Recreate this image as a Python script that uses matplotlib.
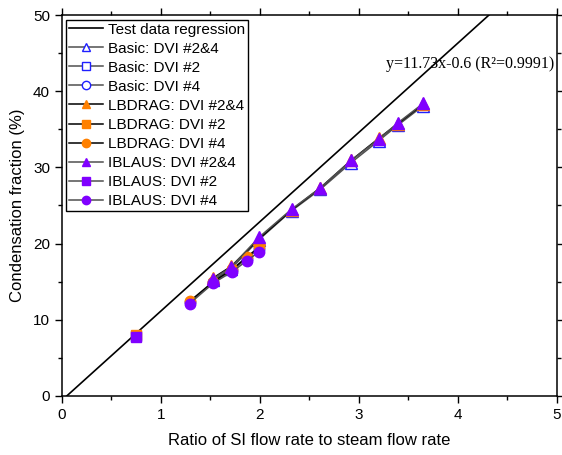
import numpy as np
import matplotlib
matplotlib.use('Agg')
import matplotlib.pyplot as plt
from matplotlib.ticker import MultipleLocator

plt.rcParams['font.family'] = ['Liberation Sans', 'DejaVu Sans']

# regression of test data
reg_slope = 11.73
reg_intercept = -0.6
reg_label = 'y=11.73x-0.6 (R\u00b2=0.9991)'

# DVI #2&4 (triangles)
tri_x = [1.53, 1.71, 1.99, 2.32, 2.61, 2.92, 3.20, 3.39, 3.65]
basic_tri = [15.2, 16.7, 20.5, 24.3, 27.1, 30.6, 33.5, 35.5, 38.1]
lbdrag_tri = [15.5, 17.0, 20.6, 24.4, 27.3, 30.9, 33.8, 35.7, 38.3]
iblaus_tri = [15.4, 16.9, 20.8, 24.5, 27.3, 30.9, 33.7, 35.8, 38.4]

# DVI #2 (squares)
sq_x = [0.75]
basic_sq = [7.8]
lbdrag_sq = [8.0]
iblaus_sq = [7.7]

# DVI #4 (circles)
circ_x = [1.29, 1.53, 1.72, 1.865, 1.99]
basic_circ = [12.3, 14.9, 16.5, 18.0, 19.3]
lbdrag_circ = [12.4, 15.0, 16.6, 18.2, 19.5]
iblaus_circ = [12.1, 14.8, 16.3, 17.7, 18.9]

blue = '#1f1fff'
orange = '#ff8000'
purple = '#8000ff'

fig = plt.figure(figsize=(5.62, 4.55), dpi=100)
ax = fig.add_axes([0.110, 0.130, 0.881, 0.837])

xr = np.array([0, 5])
ax.plot(xr, reg_slope * xr + reg_intercept, color='black', lw=1.2,
        label='Test data regression', zorder=2)

ms = 8
lw = 1.1
# Basic: open markers
ax.plot(tri_x, basic_tri, '-^', color='#505050', lw=lw, mfc='white', mec=blue,
        ms=ms, mew=1.0, label='Basic: DVI #2&4', zorder=3)
ax.plot(sq_x, basic_sq, '-s', color='#505050', lw=lw, mfc='white', mec=blue,
        ms=ms - 1, mew=1.0, label='Basic: DVI #2', zorder=3)
ax.plot(circ_x, basic_circ, '-o', color='#505050', lw=lw, mfc='white', mec=blue,
        ms=ms - 0.5, mew=1.0, label='Basic: DVI #4', zorder=3)

# LBDRAG
ax.plot(tri_x, lbdrag_tri, '-^', color='black', lw=lw, mfc=orange, mec=orange,
        ms=ms, label='LBDRAG: DVI #2&4', zorder=4)
ax.plot(sq_x, lbdrag_sq, '-s', color='black', lw=lw, mfc=orange, mec=orange,
        ms=ms - 1, label='LBDRAG: DVI #2', zorder=4)
ax.plot(circ_x, lbdrag_circ, '-o', color='black', lw=lw, mfc=orange, mec=orange,
        ms=ms - 0.5, label='LBDRAG: DVI #4', zorder=4)

# IBLAUS
ax.plot(tri_x, iblaus_tri, '-^', color='#505050', lw=lw, mfc=purple, mec=purple,
        ms=ms, label='IBLAUS: DVI #2&4', zorder=5)
ax.plot(sq_x, iblaus_sq, '-s', color='#505050', lw=lw, mfc=purple, mec=purple,
        ms=ms - 1, label='IBLAUS: DVI #2', zorder=5)
ax.plot(circ_x, iblaus_circ, '-o', color='#505050', lw=lw, mfc=purple, mec=purple,
        ms=ms - 0.5, label='IBLAUS: DVI #4', zorder=5)

ax.text(3.27, 43.6, reg_label, family=['Liberation Serif', 'DejaVu Serif'],
        fontsize=11.5, va='center', ha='left')

ax.set_xlim(0, 5)
ax.set_ylim(0, 50)
ax.xaxis.set_major_locator(MultipleLocator(1))
ax.xaxis.set_minor_locator(MultipleLocator(0.5))
ax.yaxis.set_major_locator(MultipleLocator(10))
ax.yaxis.set_minor_locator(MultipleLocator(5))
ax.tick_params(which='both', direction='out', top=True, right=True,
               labeltop=False, labelright=False, width=1.0, labelsize=11)
ax.tick_params(which='major', length=5)
ax.tick_params(which='minor', length=3)
for s in ax.spines.values():
    s.set_linewidth(1.1)

ax.set_xlabel('Ratio of SI flow rate to steam flow rate', fontsize=12, labelpad=8)
ax.set_ylabel('Condensation fraction (%)', fontsize=12, labelpad=6)

leg = ax.legend(loc='upper left', fontsize=11, frameon=True, fancybox=False,
                edgecolor='black', framealpha=1, borderaxespad=0.3,
                labelspacing=0.33, handlelength=2.2, handletextpad=0.3,
                borderpad=0.2, markerscale=0.8)
leg.get_frame().set_linewidth(1.0)

fig.savefig('out.png', dpi=100)
